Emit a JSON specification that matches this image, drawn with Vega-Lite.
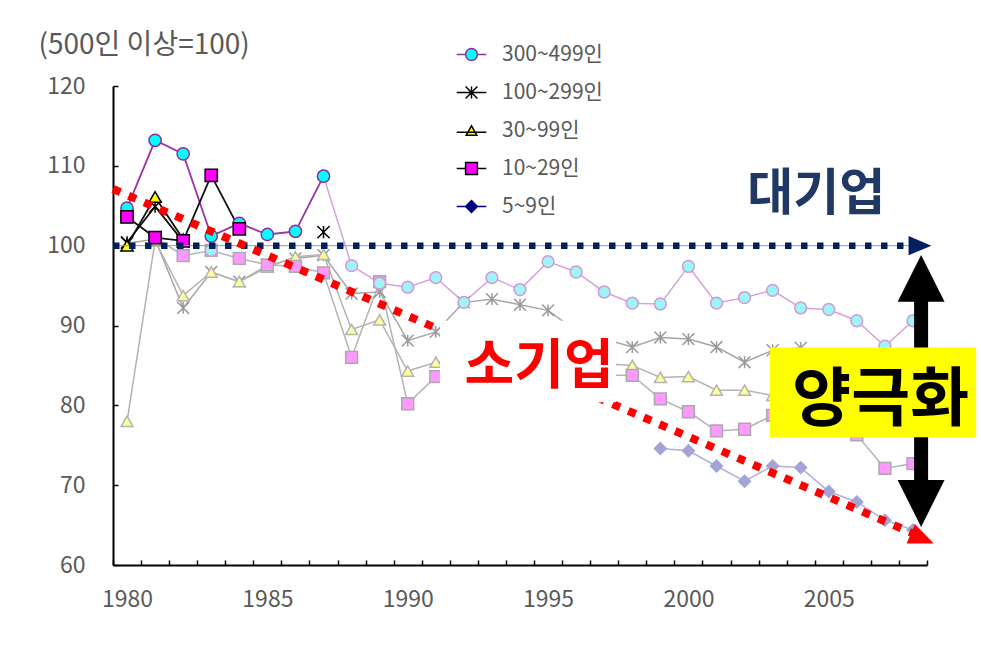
{
  "$schema": "https://vega.github.io/schema/vega-lite/v6.json",
  "width": 814,
  "height": 479,
  "autosize": {"type": "none"},
  "padding": {"left": 113, "top": 86, "right": 54, "bottom": 86},
  "background": "white",
  "config": {"view": {"stroke": null}, "font": "Noto Sans CJK KR"},
  "data": {"values": [{}]},
  "datasets": {
    "series": [
      {"s": "100~299인", "e": "new", "t": 1980, "v": 100.3},
      {"s": "100~299인", "e": "new", "t": 1981, "v": 100.8},
      {"s": "100~299인", "e": "new", "t": 1982, "v": 92.2},
      {"s": "100~299인", "e": "new", "t": 1983, "v": 96.7},
      {"s": "100~299인", "e": "new", "t": 1984, "v": 95.5},
      {"s": "100~299인", "e": "new", "t": 1985, "v": 97.5},
      {"s": "100~299인", "e": "new", "t": 1986, "v": 98.4},
      {"s": "100~299인", "e": "new", "t": 1987, "v": 98.8},
      {"s": "100~299인", "e": "new", "t": 1988, "v": 94.0},
      {"s": "100~299인", "e": "new", "t": 1989, "v": 94.2},
      {"s": "100~299인", "e": "new", "t": 1990, "v": 88.1},
      {"s": "100~299인", "e": "new", "t": 1991, "v": 89.2},
      {"s": "100~299인", "e": "new", "t": 1992, "v": 92.9},
      {"s": "100~299인", "e": "new", "t": 1993, "v": 93.3},
      {"s": "100~299인", "e": "new", "t": 1994, "v": 92.6},
      {"s": "100~299인", "e": "new", "t": 1995, "v": 91.9},
      {"s": "100~299인", "e": "new", "t": 1996, "v": 89.3},
      {"s": "100~299인", "e": "new", "t": 1997, "v": 88.3},
      {"s": "100~299인", "e": "new", "t": 1998, "v": 87.3},
      {"s": "100~299인", "e": "new", "t": 1999, "v": 88.5},
      {"s": "100~299인", "e": "new", "t": 2000, "v": 88.3},
      {"s": "100~299인", "e": "new", "t": 2001, "v": 87.3},
      {"s": "100~299인", "e": "new", "t": 2002, "v": 85.4},
      {"s": "100~299인", "e": "new", "t": 2003, "v": 86.9},
      {"s": "100~299인", "e": "new", "t": 2004, "v": 87.2},
      {"s": "100~299인", "e": "new", "t": 2005, "v": 86.4},
      {"s": "100~299인", "e": "new", "t": 2006, "v": 85.6},
      {"s": "100~299인", "e": "new", "t": 2007, "v": 84.6},
      {"s": "100~299인", "e": "new", "t": 2008, "v": 85.2},
      {"s": "30~99인", "e": "new", "t": 1980, "v": 78.0},
      {"s": "30~99인", "e": "new", "t": 1981, "v": 100.6},
      {"s": "30~99인", "e": "new", "t": 1982, "v": 93.75},
      {"s": "30~99인", "e": "new", "t": 1983, "v": 96.7},
      {"s": "30~99인", "e": "new", "t": 1984, "v": 95.5},
      {"s": "30~99인", "e": "new", "t": 1985, "v": 97.3},
      {"s": "30~99인", "e": "new", "t": 1986, "v": 98.6},
      {"s": "30~99인", "e": "new", "t": 1987, "v": 98.9},
      {"s": "30~99인", "e": "new", "t": 1988, "v": 89.5},
      {"s": "30~99인", "e": "new", "t": 1989, "v": 90.7},
      {"s": "30~99인", "e": "new", "t": 1990, "v": 84.3},
      {"s": "30~99인", "e": "new", "t": 1991, "v": 85.4},
      {"s": "30~99인", "e": "new", "t": 1992, "v": 86.0},
      {"s": "30~99인", "e": "new", "t": 1993, "v": 86.5},
      {"s": "30~99인", "e": "new", "t": 1994, "v": 86.0},
      {"s": "30~99인", "e": "new", "t": 1995, "v": 85.5},
      {"s": "30~99인", "e": "new", "t": 1996, "v": 85.3},
      {"s": "30~99인", "e": "new", "t": 1997, "v": 85.2},
      {"s": "30~99인", "e": "new", "t": 1998, "v": 85.0},
      {"s": "30~99인", "e": "new", "t": 1999, "v": 83.5},
      {"s": "30~99인", "e": "new", "t": 2000, "v": 83.6},
      {"s": "30~99인", "e": "new", "t": 2001, "v": 81.9},
      {"s": "30~99인", "e": "new", "t": 2002, "v": 81.9},
      {"s": "30~99인", "e": "new", "t": 2003, "v": 81.25},
      {"s": "30~99인", "e": "new", "t": 2004, "v": 80.5},
      {"s": "30~99인", "e": "new", "t": 2005, "v": 80.0},
      {"s": "30~99인", "e": "new", "t": 2006, "v": 79.5},
      {"s": "30~99인", "e": "new", "t": 2007, "v": 78.5},
      {"s": "30~99인", "e": "new", "t": 2008, "v": 79.0},
      {"s": "10~29인", "e": "new", "t": 1980, "v": 103.6},
      {"s": "10~29인", "e": "new", "t": 1981, "v": 101.0},
      {"s": "10~29인", "e": "new", "t": 1982, "v": 98.75},
      {"s": "10~29인", "e": "new", "t": 1983, "v": 99.4},
      {"s": "10~29인", "e": "new", "t": 1984, "v": 98.4},
      {"s": "10~29인", "e": "new", "t": 1985, "v": 97.6},
      {"s": "10~29인", "e": "new", "t": 1986, "v": 97.4},
      {"s": "10~29인", "e": "new", "t": 1987, "v": 96.6},
      {"s": "10~29인", "e": "new", "t": 1988, "v": 86.0},
      {"s": "10~29인", "e": "new", "t": 1989, "v": 95.5},
      {"s": "10~29인", "e": "new", "t": 1990, "v": 80.2},
      {"s": "10~29인", "e": "new", "t": 1991, "v": 83.6},
      {"s": "10~29인", "e": "new", "t": 1992, "v": 84.0},
      {"s": "10~29인", "e": "new", "t": 1993, "v": 84.5},
      {"s": "10~29인", "e": "new", "t": 1994, "v": 84.2},
      {"s": "10~29인", "e": "new", "t": 1995, "v": 84.0},
      {"s": "10~29인", "e": "new", "t": 1996, "v": 83.9},
      {"s": "10~29인", "e": "new", "t": 1997, "v": 83.8},
      {"s": "10~29인", "e": "new", "t": 1998, "v": 83.75},
      {"s": "10~29인", "e": "new", "t": 1999, "v": 80.8},
      {"s": "10~29인", "e": "new", "t": 2000, "v": 79.2},
      {"s": "10~29인", "e": "new", "t": 2001, "v": 76.8},
      {"s": "10~29인", "e": "new", "t": 2002, "v": 77.0},
      {"s": "10~29인", "e": "new", "t": 2003, "v": 78.75},
      {"s": "10~29인", "e": "new", "t": 2004, "v": 78.2},
      {"s": "10~29인", "e": "new", "t": 2005, "v": 77.5},
      {"s": "10~29인", "e": "new", "t": 2006, "v": 76.3},
      {"s": "10~29인", "e": "new", "t": 2007, "v": 72.1},
      {"s": "10~29인", "e": "new", "t": 2008, "v": 72.7},
      {"s": "300~499인", "e": "new", "t": 1983, "v": 99.4},
      {"s": "300~499인", "e": "new", "t": 1984, "v": null},
      {"s": "300~499인", "e": "new", "t": 1986, "v": null},
      {"s": "300~499인", "e": "new", "t": 1987, "v": 108.7},
      {"s": "300~499인", "e": "new", "t": 1988, "v": 97.5},
      {"s": "300~499인", "e": "new", "t": 1989, "v": 95.3},
      {"s": "300~499인", "e": "new", "t": 1990, "v": 94.8},
      {"s": "300~499인", "e": "new", "t": 1991, "v": 96.0},
      {"s": "300~499인", "e": "new", "t": 1992, "v": 92.9},
      {"s": "300~499인", "e": "new", "t": 1993, "v": 96.0},
      {"s": "300~499인", "e": "new", "t": 1994, "v": 94.5},
      {"s": "300~499인", "e": "new", "t": 1995, "v": 98.0},
      {"s": "300~499인", "e": "new", "t": 1996, "v": 96.7},
      {"s": "300~499인", "e": "new", "t": 1997, "v": 94.2},
      {"s": "300~499인", "e": "new", "t": 1998, "v": 92.8},
      {"s": "300~499인", "e": "new", "t": 1999, "v": 92.7},
      {"s": "300~499인", "e": "new", "t": 2000, "v": 97.4},
      {"s": "300~499인", "e": "new", "t": 2001, "v": 92.8},
      {"s": "300~499인", "e": "new", "t": 2002, "v": 93.5},
      {"s": "300~499인", "e": "new", "t": 2003, "v": 94.4},
      {"s": "300~499인", "e": "new", "t": 2004, "v": 92.2},
      {"s": "300~499인", "e": "new", "t": 2005, "v": 92.0},
      {"s": "300~499인", "e": "new", "t": 2006, "v": 90.6},
      {"s": "300~499인", "e": "new", "t": 2007, "v": 87.4},
      {"s": "300~499인", "e": "new", "t": 2008, "v": 90.6},
      {"s": "5~9인", "e": "new", "t": 1999, "v": 74.6},
      {"s": "5~9인", "e": "new", "t": 2000, "v": 74.3},
      {"s": "5~9인", "e": "new", "t": 2001, "v": 72.4},
      {"s": "5~9인", "e": "new", "t": 2002, "v": 70.5},
      {"s": "5~9인", "e": "new", "t": 2003, "v": 72.4},
      {"s": "5~9인", "e": "new", "t": 2004, "v": 72.2},
      {"s": "5~9인", "e": "new", "t": 2005, "v": 69.2},
      {"s": "5~9인", "e": "new", "t": 2006, "v": 67.9},
      {"s": "5~9인", "e": "new", "t": 2007, "v": 65.6},
      {"s": "5~9인", "e": "new", "t": 2008, "v": 64.4},
      {"s": "300~499인", "e": "old", "t": 1980, "v": 104.7},
      {"s": "300~499인", "e": "old", "t": 1981, "v": 113.2},
      {"s": "300~499인", "e": "old", "t": 1982, "v": 111.5},
      {"s": "300~499인", "e": "old", "t": 1983, "v": 101.2},
      {"s": "300~499인", "e": "old", "t": 1984, "v": 102.8},
      {"s": "300~499인", "e": "old", "t": 1985, "v": 101.4},
      {"s": "300~499인", "e": "old", "t": 1986, "v": 101.8},
      {"s": "300~499인", "e": "old", "t": 1987, "v": 108.7},
      {"s": "100~299인", "e": "old", "t": 1980, "v": 100.4},
      {"s": "100~299인", "e": "old", "t": 1981, "v": 104.9},
      {"s": "100~299인", "e": "old", "t": 1982, "v": 100.5},
      {"s": "100~299인", "e": "old", "t": 1983, "v": null},
      {"s": "100~299인", "e": "old", "t": 1987, "v": 101.7},
      {"s": "30~99인", "e": "old", "t": 1980, "v": 100.0},
      {"s": "30~99인", "e": "old", "t": 1981, "v": 106.1},
      {"s": "30~99인", "e": "old", "t": 1982, "v": 100.8},
      {"s": "10~29인", "e": "old", "t": 1980, "v": 103.6},
      {"s": "10~29인", "e": "old", "t": 1981, "v": 101.0},
      {"s": "10~29인", "e": "old", "t": 1982, "v": 100.6},
      {"s": "10~29인", "e": "old", "t": 1983, "v": 108.8},
      {"s": "10~29인", "e": "old", "t": 1984, "v": 102.1}
    ]
  },
  "layer": [
    {
      "data": {"name": "series"},
      "transform": [{"filter": "datum.e === 'new'"}],
      "mark": {"type": "line", "strokeWidth": 1.5, "invalid": "break-paths-show-domains"},
      "encoding": {
        "x": {"field": "t", "type": "quantitative", "scale": {"domain": [1979.5, 2008.5], "nice": false, "zero": false},
          "axis": {"orient": "top", "offset": -479, "title": null, "grid": false, "labels": false,
            "values": [1979.5, 1980.5, 1981.5, 1982.5, 1983.5, 1984.5, 1985.5, 1986.5, 1987.5, 1988.5, 1989.5, 1990.5, 1991.5, 1992.5, 1993.5, 1994.5, 1995.5, 1996.5, 1997.5, 1998.5, 1999.5, 2000.5, 2001.5, 2002.5, 2003.5, 2004.5, 2005.5, 2006.5, 2007.5, 2008.5],
            "tickSize": 5, "tickColor": "#000000", "tickWidth": 1.5,
            "domainColor": "#000000", "domainWidth": 2}},
        "y": {"field": "v", "type": "quantitative", "scale": {"domain": [60, 120], "nice": false, "zero": false},
          "axis": {"orient": "left", "title": "(500인 이상=100)", "grid": false, "values": [60, 70, 80, 90, 100, 110, 120],
            "titleAngle": 0, "titleAlign": "left", "titleBaseline": "middle", "titleX": -75, "titleY": -41,
            "titleFontSize": 28, "titleFontWeight": "normal", "titleColor": "#595959",
            "ticks": false, "tickSize": 0, "domain": false,
            "labelFontSize": 23, "labelColor": "#595959", "labelPadding": 28}},
        "detail": {"field": "s"},
        "stroke": {"field": "s", "type": "nominal", "legend": null,
          "scale": {"domain": ["300~499인", "100~299인", "30~99인", "10~29인", "5~9인"],
            "range": ["#d3a3da", "#a6a6a6", "#b3b3b3", "#b3b3b3", "#b0b0dc"]}}
      }
    },
    {
      "data": {"name": "series"},
      "transform": [{"filter": "datum.e === 'new' && datum.v !== null"}],
      "mark": {"type": "point", "filled": true, "size": 140, "strokeWidth": 1.5, "opacity": 1},
      "encoding": {
        "x": {"field": "t", "type": "quantitative",
          "axis": {"orient": "bottom", "title": null, "grid": false, "format": "d",
            "values": [1980, 1985, 1990, 1995, 2000, 2005],
            "ticks": false, "tickSize": 0, "domain": false, "labelOverlap": false,
            "labelFontSize": 23, "labelColor": "#595959", "labelPadding": 23}},
        "y": {"field": "v", "type": "quantitative",
          "axis": {"orient": "right", "offset": -814, "title": null, "grid": false, "labels": false,
            "values": [60, 70, 80, 90, 100, 110, 120],
            "tickSize": 5, "tickColor": "#000000", "tickWidth": 1.5,
            "domainColor": "#000000", "domainWidth": 2}},
        "shape": {"field": "s", "type": "nominal", "legend": null,
          "scale": {"domain": ["300~499인", "100~299인", "30~99인", "10~29인", "5~9인"],
            "range": ["circle", "M-1,-1L1,1M-1,1L1,-1M0,-1L0,1", "triangle-up", "square", "diamond"]}},
        "fill": {"field": "s", "type": "nominal", "legend": null,
          "scale": {"domain": ["300~499인", "100~299인", "30~99인", "10~29인", "5~9인"],
            "range": ["#9ff5f5", "#a6a6a6", "#ffff99", "#ff99ff", "#a3a3d6"]}},
        "stroke": {"field": "s", "type": "nominal", "legend": null,
          "scale": {"domain": ["300~499인", "100~299인", "30~99인", "10~29인", "5~9인"],
            "range": ["#d09ad6", "#999999", "#b3b3b3", "#aaaaaa", "#a3a3d6"]}}
      }
    },
    {
      "data": {"name": "series"},
      "transform": [{"filter": "datum.e === 'old'"}],
      "mark": {"type": "line", "strokeWidth": 1.8, "invalid": "break-paths-show-domains"},
      "encoding": {
        "x": {"field": "t", "type": "quantitative", "axis": null},
        "y": {"field": "v", "type": "quantitative", "axis": null},
        "detail": {"field": "s"},
        "stroke": {"field": "s", "type": "nominal", "legend": null,
          "scale": {"domain": ["300~499인", "100~299인", "30~99인", "10~29인", "5~9인"],
            "range": ["#9933a6", "#111111", "#111111", "#111111", "#000080"]}}
      }
    },
    {
      "data": {"name": "series"},
      "transform": [{"filter": "datum.e === 'old' && datum.v !== null"}],
      "mark": {"type": "point", "filled": true, "size": 150, "strokeWidth": 1.5, "opacity": 1},
      "encoding": {
        "x": {"field": "t", "type": "quantitative", "axis": null},
        "y": {"field": "v", "type": "quantitative", "axis": null},
        "shape": {"field": "s", "type": "nominal", "legend": null,
          "scale": {"domain": ["300~499인", "100~299인", "30~99인", "10~29인", "5~9인"],
            "range": ["circle", "M-1,-1L1,1M-1,1L1,-1M0,-1L0,1", "triangle-up", "square", "diamond"]}},
        "fill": {"field": "s", "type": "nominal", "legend": null,
          "scale": {"domain": ["300~499인", "100~299인", "30~99인", "10~29인", "5~9인"],
            "range": ["#00ffff", "#000000", "#ffff00", "#ff00ff", "#000080"]}},
        "stroke": {"field": "s", "type": "nominal", "legend": null,
          "scale": {"domain": ["300~499인", "100~299인", "30~99인", "10~29인", "5~9인"],
            "range": ["#8e2f9e", "#000000", "#000000", "#000000", "#000080"]}}
      }
    },
    {
      "data": {"name": "series"},
      "transform": [{"filter": "datum.e === 'old' && datum.t === 1980"}],
      "mark": {"type": "point", "filled": true, "size": 140, "strokeWidth": 1.5, "opacity": 0},
      "encoding": {
        "x": {"field": "t", "type": "quantitative", "axis": null},
        "y": {"field": "v", "type": "quantitative", "axis": null},
        "shape": {"field": "s", "type": "nominal",
          "scale": {"domain": ["300~499인", "100~299인", "30~99인", "10~29인", "5~9인"],
            "range": ["M-2.5,0L-1,0M1,0L2.5,0M-1,0A1,1 0 1,1 1,0A1,1 0 1,1 -1,0Z", "M-2.5,0L2.5,0M-1,-1L1,1M-1,1L1,-1M0,-1L0,1", "M-2.5,0.3L2.5,0.3M-0.9,0.8L0.9,0.8L0,-0.8Z", "M-2.5,0L-1,0M1,0L2.5,0M-1,-1L1,-1L1,1L-1,1Z", "M-2.5,0L2.5,0M0,-1L1,0L0,1L-1,0Z"]},
          "legend": {"orient": "none", "legendX": 348, "legendY": -42, "title": null, "padding": 0,
            "labelFontSize": 21, "labelColor": "#595959", "labelFont": "Noto Sans CJK KR",
            "rowPadding": 16, "labelOffset": 20, "symbolSize": 140, "symbolStrokeWidth": 1.5, "symbolOpacity": 1}},
        "fill": {"field": "s", "type": "nominal",
          "scale": {"domain": ["300~499인", "100~299인", "30~99인", "10~29인", "5~9인"],
            "range": ["#00ffff", "#000000", "#ffff00", "#ff00ff", "#000080"]},
          "legend": {"orient": "none", "legendX": 348, "legendY": -42, "title": null, "padding": 0,
            "labelFontSize": 21, "labelColor": "#595959", "labelFont": "Noto Sans CJK KR",
            "rowPadding": 16, "labelOffset": 20, "symbolSize": 140, "symbolStrokeWidth": 1.5, "symbolOpacity": 1}},
        "stroke": {"field": "s", "type": "nominal",
          "scale": {"domain": ["300~499인", "100~299인", "30~99인", "10~29인", "5~9인"],
            "range": ["#8e2f9e", "#000000", "#000000", "#000000", "#000080"]},
          "legend": {"orient": "none", "legendX": 348, "legendY": -42, "title": null, "padding": 0,
            "labelFontSize": 21, "labelColor": "#595959", "labelFont": "Noto Sans CJK KR",
            "rowPadding": 16, "labelOffset": 20, "symbolSize": 140, "symbolStrokeWidth": 1.5, "symbolOpacity": 1}}
      }
    },
    {
      "mark": {"type": "rule", "color": "#999999", "strokeWidth": 1},
      "encoding": {
        "x": {"datum": 1979.5, "type": "quantitative", "axis": null},
        "x2": {"datum": 2008.1},
        "y": {"datum": 100, "type": "quantitative", "axis": null}
      }
    },
    {
      "mark": {"type": "rule", "color": "#002060", "strokeWidth": 6.5, "strokeDash": [6.5, 9.5], "strokeCap": "butt"},
      "encoding": {
        "x": {"datum": 1979.5, "type": "quantitative", "axis": null},
        "x2": {"datum": 2008.1},
        "y": {"datum": 100, "type": "quantitative", "axis": null}
      }
    },
    {
      "mark": {"type": "point", "filled": true, "color": "#002060", "opacity": 1, "size": 520, "shape": "M1,0L-1,-0.85L-1,0.85Z"},
      "encoding": {
        "x": {"datum": 2008.25, "type": "quantitative", "axis": null},
        "y": {"datum": 100, "type": "quantitative", "axis": null}
      }
    },
    {
      "mark": {"type": "rule", "color": "#ff0000", "strokeWidth": 8, "strokeDash": [8, 9], "strokeCap": "butt"},
      "encoding": {
        "x": {"datum": 1979.5, "type": "quantitative", "axis": null},
        "y": {"datum": 107.1, "type": "quantitative", "axis": null},
        "x2": {"datum": 2008.2},
        "y2": {"datum": 63.66}
      }
    },
    {
      "mark": {"type": "point", "filled": true, "color": "#ff0000", "opacity": 1, "size": 620, "angle": 23, "shape": "M1,0L-1,-0.85L-1,0.85Z"},
      "encoding": {
        "x": {"datum": 2008.33, "type": "quantitative", "axis": null},
        "y": {"datum": 63.3, "type": "quantitative", "axis": null}
      }
    },
    {
      "mark": {"type": "rect", "color": "#ffffff", "opacity": 1},
      "encoding": {
        "x": {"datum": 1991.15, "type": "quantitative", "axis": null},
        "x2": {"datum": 1997.42},
        "y": {"datum": 90.6, "type": "quantitative", "axis": null},
        "y2": {"datum": 80.4}
      }
    },
    {
      "mark": {"type": "text", "text": "소기업", "font": "Noto Sans CJK KR", "fontSize": 54, "fontWeight": "bold", "color": "#ff0000", "align": "center", "baseline": "middle"},
      "encoding": {
        "x": {"datum": 1994.68, "type": "quantitative", "axis": null},
        "y": {"datum": 84.7, "type": "quantitative", "axis": null}
      }
    },
    {
      "mark": {"type": "rule", "color": "#000000", "strokeWidth": 14},
      "encoding": {
        "x": {"datum": 2008.29, "type": "quantitative", "axis": null},
        "y": {"datum": 68.5, "type": "quantitative", "axis": null},
        "y2": {"datum": 95.5}
      }
    },
    {
      "mark": {"type": "point", "filled": true, "color": "#000000", "opacity": 1, "size": 2200, "shape": "M0,-1L1,1L-1,1Z"},
      "encoding": {
        "x": {"datum": 2008.29, "type": "quantitative", "axis": null},
        "y": {"datum": 95.9, "type": "quantitative", "axis": null}
      }
    },
    {
      "mark": {"type": "point", "filled": true, "color": "#000000", "opacity": 1, "size": 2200, "shape": "M0,1L1,-1L-1,-1Z"},
      "encoding": {
        "x": {"datum": 2008.29, "type": "quantitative", "axis": null},
        "y": {"datum": 67.7, "type": "quantitative", "axis": null}
      }
    },
    {
      "mark": {"type": "rect", "color": "#ffff00", "opacity": 1},
      "encoding": {
        "x": {"datum": 2002.9, "type": "quantitative", "axis": null},
        "x2": {"datum": 2010.25},
        "y": {"datum": 87.25, "type": "quantitative", "axis": null},
        "y2": {"datum": 76.0}
      }
    },
    {
      "mark": {"type": "text", "text": "양극화", "font": "Noto Sans CJK KR", "fontSize": 64, "fontWeight": "bold", "color": "#000000", "align": "center", "baseline": "middle"},
      "encoding": {
        "x": {"datum": 2006.85, "type": "quantitative", "axis": null},
        "y": {"datum": 80.5, "type": "quantitative", "axis": null}
      }
    },
    {
      "mark": {"type": "text", "text": "대기업", "font": "Noto Sans CJK KR", "fontSize": 50, "fontWeight": "bold", "color": "#1f3864", "align": "center", "baseline": "middle"},
      "encoding": {
        "x": {"datum": 2004.55, "type": "quantitative", "axis": null},
        "y": {"datum": 106.4, "type": "quantitative", "axis": null}
      }
    }
  ],
  "resolve": {
    "scale": {"fill": "independent", "stroke": "independent", "shape": "independent"},
    "legend": {"fill": "independent", "stroke": "independent", "shape": "independent"},
    "axis": {"x": "independent", "y": "independent"}
  }
}
